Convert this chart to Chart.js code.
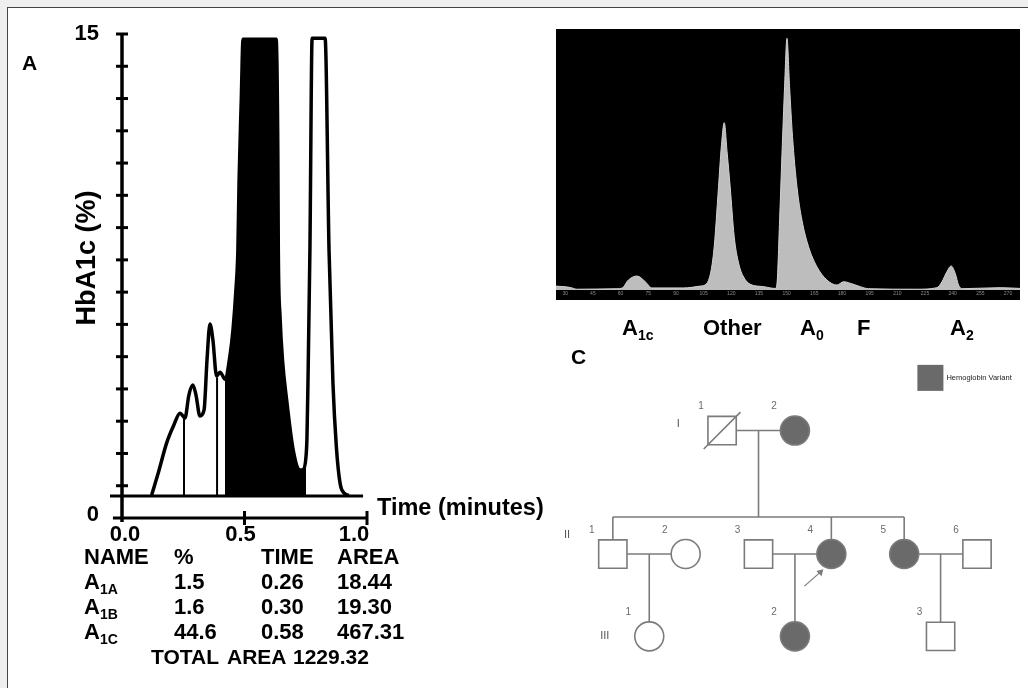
<!DOCTYPE html>
<html>
<head>
<meta charset="utf-8">
<script src="https://cdn.jsdelivr.net/npm/chart.js@4.4.0/dist/chart.umd.min.js"></script>
<style>
  html, body { margin: 0; padding: 0; width: 1028px; height: 688px; overflow: hidden; background: #efefef;
    font-family: "Liberation Sans", Arial, sans-serif; }
  #frame { position: absolute; left: 7px; top: 7px; width: 1040px; height: 700px; background: #fff;
    border-left: 1px solid #444; border-top: 1px solid #444; }
  .wrap { position: absolute; }
  .txt { position: absolute; font-weight: bold; font-size: 22px; color: #000; line-height: 24px; white-space: nowrap; z-index: 5; }
  .txt sub { font-size: 14px; vertical-align: -5px; line-height: 0; }
  .panel { font-size: 21px; }
</style>
</head>
<body>
<div id="frame"></div>

<div class="wrap" style="left:0;top:0;width:560px;height:560px"><canvas id="chartA" width="560" height="560"></canvas></div>
<div class="wrap" style="left:556px;top:29px;width:464px;height:271px"><canvas id="chartB" width="464" height="271"></canvas></div>
<div class="wrap" style="left:540px;top:340px;width:488px;height:340px"><canvas id="chartC" width="488" height="340"></canvas></div>

<!-- panel letters -->
<div class="txt panel" style="left:22px;top:51px">A</div>
<div class="txt panel" style="left:571px;top:49px">B</div>
<div class="txt panel" style="left:571px;top:345px">C</div>

<!-- table under panel A -->
<div id="tableA"></div>

<!-- peak names under panel B -->
<div id="namesB"></div>

<script>
// ---- panel A : HbA1c chromatogram ----
const timeA = [0.121, 0.150, 0.182, 0.210, 0.237, 0.257, 0.273, 0.289, 0.302, 0.318, 0.335, 0.347, 0.359, 0.371,
  0.386, 0.400, 0.416, 0.420, 0.441, 0.453, 0.465, 0.473, 0.478, 0.487, 0.494, 0.629, 0.636, 0.638, 0.645, 0.655,
  0.672, 0.699, 0.727, 0.740, 0.751, 0.755, 0.759, 0.767, 0.776, 0.829, 0.845, 0.861, 0.875, 0.890, 0.905, 0.925];
const pctA = [0.71, 1.45, 2.32, 2.85, 3.25, 3.10, 3.81, 4.12, 3.81, 3.16, 3.35, 4.90, 6.01, 5.52,
  4.40, 4.52, 4.34, 4.30, 5.05, 5.83, 7.07, 8.30, 10.5, 13.0, 14.84, 14.84, 11.4, 8.30, 6.24, 4.90,
  3.66, 2.10, 1.49, 1.50, 1.90, 2.50, 4.18, 8.30, 14.87, 14.87, 8.30, 4.18, 2.20, 1.08, 0.78, 0.70];
const baselineA = 0.68;
const baselineSpan = [-0.049, 0.984];
const dividerTime = [0.253, 0.388];
const dividerTop = [3.12, 4.36];
const blackFrom = 0.420, blackTo = 0.751;
const yLabelsA = [0, 15];
const xLabelsA = [0.0, 0.5, 1.0];

const tableHead = ['NAME', '%', 'TIME', 'AREA'];
const peakNames = ['A<sub>1A</sub>', 'A<sub>1B</sub>', 'A<sub>1C</sub>'];
const peakPct = ['1.5', '1.6', '44.6'];
const peakTime = ['0.26', '0.30', '0.58'];
const peakArea = ['18.44', '19.30', '467.31'];
const totalArea = '1229.32';

// ---- panel B : electrophoresis scan ----
const migrB = [25, 32.7, 36.3, 58, 60.7, 64.3, 68.9, 73.4, 77, 94.1, 103.2, 106.8, 110.4, 113.1, 114.6, 116.2,
  117.8, 119.4, 121.6, 124, 126.7, 130.3, 137.5, 143.8, 144.7, 146.2, 147.5, 148.9, 150.2, 151.6, 153.2, 155.6,
  158.3, 161.9, 166.4, 171.8, 177.3, 180.9, 184.5, 189.9, 194.4, 220.6, 231.5, 234.2, 236.9, 239.2, 241.4, 243.2,
  245, 265.8, 276.5];
const intensB = [1.5, 1.0, 0.3, 0.5, 0.7, 3.9, 5.4, 3.2, 0.8, 0.8, 1.5, 2.6, 14.2, 39.9, 55.3, 64.6,
  52.8, 39.9, 20.6, 10.3, 5.0, 2.2, 1.3, 0.6, 1.9, 27.0, 52.8, 78.5, 97.2, 78.5, 59.2, 39.9,
  27.0, 16.7, 9.0, 3.9, 1.9, 3.2, 2.6, 1.3, 0.5, 0.3, 0.9, 3.2, 7.1, 9.3, 6.4, 1.9,
  0.5, 0.9, 0.6];
const ticksB = [30, 45, 60, 75, 90, 105, 120, 135, 150, 165, 180, 195, 210, 225, 240, 255, 270];
const bandNames = ['A<sub>1c</sub>', 'Other', 'A<sub>0</sub>', 'F', 'A<sub>2</sub>'];
const bandLeft = [622, 703, 800, 857, 950];

// ---- panel C : pedigree ----
const pedNumber = ['1', '2', '1', '2', '3', '4', '5', '6', '1', '2', '3'];
const pedCol = [1.5, 2.5, 0, 1, 2, 3, 4, 5, 0.5, 2.5, 4.5];
const pedRow = [0, 0, 1.5, 1.5, 1.5, 1.5, 1.5, 1.5, 2.5, 2.5, 2.5];
const pedSex = ['M', 'F', 'M', 'F', 'M', 'F', 'F', 'M', 'F', 'F', 'M'];
const pedAffected = [false, true, false, false, false, true, true, false, false, true, false];
const pedDeceased = [true, false, false, false, false, false, false, false, false, false, false];
const pedCouples = [[0, 1], [2, 3], [4, 5], [6, 7]];
const pedChildren = [[2, 5, 6], [8], [9], [10]];
const sibshipRow = 1.05;
const probandIndex = 5;
const genText = ['I', 'II', 'III'];
const genCol = [0.9, -0.63, -0.11];
const genRow = [-0.08, 1.27, 2.49];
const legendText = 'Hemoglobin Variant';
const legendPos = [4.36, -0.64];

const FONT = '"Liberation Sans", Arial, sans-serif';

// html text: table and band names
(function () {
  const cols = [84, 174, 261, 337];
  const rowTop = [545, 570, 595, 620];
  let html = '';
  tableHead.forEach((h, i) => { html += `<div class="txt" style="left:${cols[i]}px;top:${rowTop[0]}px">${h}</div>`; });
  peakNames.forEach((n, r) => {
    const vals = [n, peakPct[r], peakTime[r], peakArea[r]];
    vals.forEach((v, i) => { html += `<div class="txt" style="left:${cols[i]}px;top:${rowTop[r + 1]}px">${v}</div>`; });
  });
  html += `<div class="txt" style="left:151px;top:645px;font-size:21px">TOTAL</div>`;
  html += `<div class="txt" style="left:227px;top:645px;font-size:21px">AREA</div>`;
  html += `<div class="txt" style="left:293px;top:645px;font-size:21px">${totalArea}</div>`;
  document.getElementById('tableA').innerHTML = html;

  let names = '';
  bandNames.forEach((n, i) => { names += `<div class="txt" style="left:${bandLeft[i]}px;top:316px">${n}</div>`; });
  document.getElementById('namesB').innerHTML = names;
})();

// ---- chart A ----
const tracePts = timeA.map((t, i) => ({ x: t, y: pctA[i] }));
const blackPts = tracePts.filter(p => p.x >= blackFrom && p.x <= blackTo);

const axesA = {
  id: 'axesA',
  afterDatasetsDraw(chart) {
    const { ctx, scales: { x, y } } = chart;
    const x0 = x.getPixelForValue(0), y0 = y.getPixelForValue(0);
    ctx.save();
    ctx.strokeStyle = '#000';
    ctx.lineWidth = 3.5;
    ctx.beginPath(); ctx.moveTo(x0, y0 + 4); ctx.lineTo(x0, y.getPixelForValue(15)); ctx.stroke();
    ctx.lineWidth = 3;
    for (let v = 1; v <= 15; v++) {
      const py = y.getPixelForValue(v);
      ctx.beginPath(); ctx.moveTo(x0 - 6, py); ctx.lineTo(x0 + 6, py); ctx.stroke();
    }
    ctx.beginPath(); ctx.moveTo(x.getPixelForValue(-0.037), y0); ctx.lineTo(x.getPixelForValue(1), y0); ctx.stroke();
    [0.5, 1].forEach(v => {
      const px = x.getPixelForValue(v);
      ctx.beginPath(); ctx.moveTo(px, y0 - 7); ctx.lineTo(px, y0 + 7); ctx.stroke();
    });
    ctx.fillStyle = '#000';
    ctx.font = 'bold 22px ' + FONT;
    ctx.textAlign = 'right'; ctx.textBaseline = 'middle';
    yLabelsA.forEach(v => ctx.fillText(String(v), x0 - 23, y.getPixelForValue(v) - (v === 0 ? 3 : 0)));
    ctx.textAlign = 'center';
    const shift = [3, -4, -13];
    xLabelsA.forEach((v, i) => ctx.fillText(v.toFixed(1), x.getPixelForValue(v) + shift[i], y0 + 17));
    ctx.textAlign = 'left';
    ctx.font = 'bold 23.5px ' + FONT;
    ctx.fillText('Time (minutes)', x.getPixelForValue(1) + 10, y0 - 9);
    ctx.font = 'bold 27px ' + FONT;
    ctx.translate(88, 258);
    ctx.rotate(-Math.PI / 2);
    ctx.textAlign = 'center';
    ctx.fillText('HbA1c (%)', 0, 0);
    ctx.restore();
  }
};

const datasetsA = [
  { data: tracePts, borderColor: '#000', borderWidth: 3.5, order: 0 },
  { data: blackPts, borderColor: 'rgba(0,0,0,0)', borderWidth: 0, backgroundColor: '#000',
    fill: { value: baselineA }, order: 3 },
  { data: baselineSpan.map(t => ({ x: t, y: baselineA })), borderColor: '#000', borderWidth: 3, order: 1 }
];
dividerTime.forEach((t, i) => {
  datasetsA.push({ data: [{ x: t, y: baselineA }, { x: t, y: dividerTop[i] }], borderColor: '#000', borderWidth: 2, order: 2 });
});

new Chart(document.getElementById('chartA'), {
  type: 'line',
  data: { datasets: datasetsA.map(d => Object.assign({ pointRadius: 0, cubicInterpolationMode: 'monotone', clip: false, fill: false }, d)) },
  options: {
    responsive: false,
    animation: false,
    layout: { autoPadding: false, padding: { left: 122, right: 193, top: 34, bottom: 42 } },
    scales: {
      x: { type: 'linear', min: 0, max: 1, display: false },
      y: { min: 0, max: 15, display: false }
    },
    plugins: { legend: { display: false }, tooltip: { enabled: false } }
  },
  plugins: [axesA]
});

// ---- chart B ----
const bgB = {
  id: 'bgB',
  beforeDraw(chart) {
    const { ctx, width, height } = chart;
    ctx.save(); ctx.fillStyle = '#000'; ctx.fillRect(0, 0, width, height); ctx.restore();
  },
  afterDraw(chart) {
    const { ctx, scales: { x } } = chart;
    ctx.save();
    ctx.fillStyle = '#8a8a8a';
    ctx.font = '5px ' + FONT;
    ctx.textAlign = 'center'; ctx.textBaseline = 'middle';
    ticksB.forEach(v => ctx.fillText(String(v), x.getPixelForValue(v), 265));
    ctx.restore();
  }
};

new Chart(document.getElementById('chartB'), {
  type: 'line',
  data: {
    datasets: [{
      data: migrB.map((m, i) => ({ x: m, y: intensB[i] })),
      borderColor: '#d2d2d2', borderWidth: 1, backgroundColor: '#bdbdbd', fill: 'origin',
      pointRadius: 0, cubicInterpolationMode: 'monotone'
    }]
  },
  options: {
    responsive: false,
    animation: false,
    layout: { autoPadding: false, padding: { left: 0, right: 0, top: 2, bottom: 10 } },
    scales: {
      x: { type: 'linear', min: 25, max: 276.5, display: false },
      y: { min: 0, max: 100, display: false }
    },
    plugins: { legend: { display: false }, tooltip: { enabled: false } }
  },
  plugins: [bgB]
});

// ---- chart C : pedigree ----
const PED_LINE = '#7b7b7b', PED_FILL = '#6a6a6a';
const segs = [];
pedCouples.forEach((c, k) => {
  const [a, b] = c;
  segs.push([[pedCol[a], pedRow[a]], [pedCol[b], pedRow[b]]]);
  const mid = (pedCol[a] + pedCol[b]) / 2;
  const kids = pedChildren[k];
  if (kids.length > 1) {
    segs.push([[mid, pedRow[a]], [mid, sibshipRow]]);
    const cs = kids.map(i => pedCol[i]);
    segs.push([[Math.min(...cs), sibshipRow], [Math.max(...cs), sibshipRow]]);
    kids.forEach(i => segs.push([[pedCol[i], sibshipRow], [pedCol[i], pedRow[i]]]));
  } else {
    segs.push([[mid, pedRow[a]], [mid, pedRow[kids[0]]]]);
  }
});

const datasetsC = segs.map(s => ({
  type: 'line', data: s.map(p => ({ x: p[0], y: p[1] })),
  borderColor: PED_LINE, borderWidth: 1.6, pointRadius: 0, order: 3
}));
datasetsC.push({
  type: 'scatter',
  data: pedCol.map((c, i) => ({ x: c, y: pedRow[i] })),
  pointStyle: pedSex.map(s => (s === 'M' ? 'rect' : 'circle')),
  pointRadius: pedSex.map(s => (s === 'M' ? 20 : 14.5)),
  pointBackgroundColor: pedAffected.map(a => (a ? PED_FILL : '#fff')),
  pointBorderColor: PED_LINE, pointBorderWidth: 1.6, order: 1
});
datasetsC.push({
  type: 'scatter',
  data: pedCol.map((c, i) => ({ x: c, y: pedRow[i] })).filter((p, i) => pedDeceased[i]),
  pointStyle: 'line', pointRotation: -45, pointRadius: 26,
  pointBorderColor: PED_LINE, pointBorderWidth: 1.6, order: 0
});
const pc = pedCol[probandIndex], pr = pedRow[probandIndex];
datasetsC.push({
  type: 'line',
  data: [{ x: pc - 0.37, y: pr + 0.39 }, { x: pc - 0.15, y: pr + 0.22 }],
  borderColor: PED_LINE, borderWidth: 1.2, pointRadius: [0, 3],
  pointStyle: 'triangle', pointRotation: 45, pointBackgroundColor: PED_LINE, pointBorderColor: PED_LINE, order: 0
});
datasetsC.push({
  type: 'scatter',
  data: [{ x: legendPos[0], y: legendPos[1] }],
  pointStyle: 'rect', pointRadius: 18.4, pointBackgroundColor: PED_FILL, pointBorderWidth: 0, order: 0
});

const pedLabels = {
  id: 'pedLabels',
  afterDraw(chart) {
    const { ctx, scales: { x, y } } = chart;
    ctx.save();
    ctx.fillStyle = '#6a6a6a';
    ctx.font = '10px ' + FONT;
    ctx.textAlign = 'center'; ctx.textBaseline = 'middle';
    pedNumber.forEach((n, i) => ctx.fillText(n, x.getPixelForValue(pedCol[i]) - 21, y.getPixelForValue(pedRow[i]) - 24));
    ctx.fillStyle = '#555';
    ctx.font = '11px ' + FONT;
    genText.forEach((g, i) => ctx.fillText(g, x.getPixelForValue(genCol[i]), y.getPixelForValue(genRow[i])));
    ctx.fillStyle = '#222';
    ctx.font = '7.5px ' + FONT;
    ctx.textAlign = 'left';
    ctx.fillText(legendText, x.getPixelForValue(legendPos[0]) + 16, y.getPixelForValue(legendPos[1]));
    ctx.restore();
  }
};

new Chart(document.getElementById('chartC'), {
  type: 'scatter',
  data: { datasets: datasetsC },
  options: {
    responsive: false,
    animation: false,
    layout: { autoPadding: false, padding: 0 },
    scales: {
      x: { type: 'linear', min: -1, max: 5.7, display: false },
      y: { min: -1.1, max: 3.03, reverse: true, display: false }
    },
    plugins: { legend: { display: false }, tooltip: { enabled: false } }
  },
  plugins: [pedLabels]
});
</script>
</body>
</html>
